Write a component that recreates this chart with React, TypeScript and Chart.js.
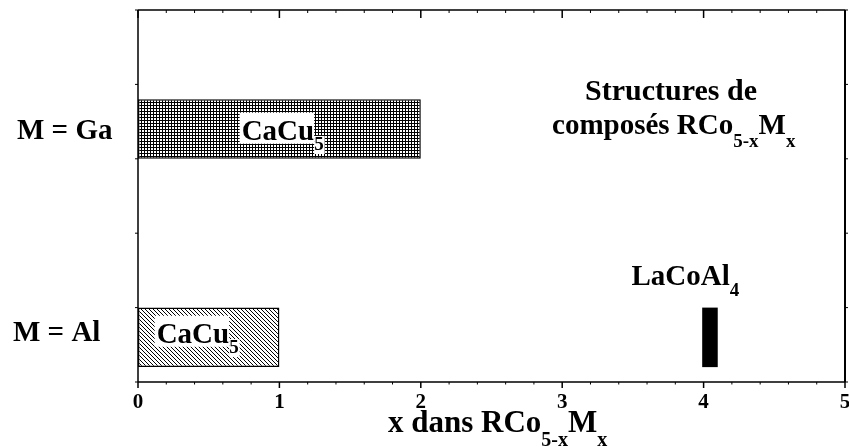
import React, { useEffect, useRef } from "react";
import { Chart, registerables } from "chart.js";

Chart.register(...registerables);

// ---- data ----
const categories = ["M = Ga", "M = Al"];
const categoryPositions = [3.4, 0.6]; // row centres on the vertical scale
const gaCaCu5Range = [0, 2];
const alCaCu5Range = [0, 1];
const alLaCoAl4Range = [3.99, 4.1];
const xTicks = [0, 1, 2, 3, 4, 5];
const yTicks = [0, 1, 2, 3, 4, 5];

// ---- layout / styles ----
const FONT = '"Liberation Serif", "Times New Roman", serif';
const MAIN = 29;
const SUB = 19;

type Seg = { t: string; sub?: boolean };

// text annotations, anchored in data coordinates
const annotations: { segs: Seg[]; x: number; y: number; align: "left" | "center"; bg: boolean; size: number; subDy: number }[] = [
  { segs: [{ t: "CaCu" }, { t: "5", sub: true }], x: 0.733, y: 3.25, align: "left", bg: true, size: MAIN, subDy: 10 },
  { segs: [{ t: "CaCu" }, { t: "5", sub: true }], x: 0.132, y: 0.52, align: "left", bg: true, size: MAIN, subDy: 10 },
  { segs: [{ t: "LaCoAl" }, { t: "4", sub: true }], x: 3.49, y: 1.3, align: "left", bg: false, size: MAIN, subDy: 11 },
  { segs: [{ t: "Structures de" }], x: 3.77, y: 3.79, align: "center", bg: false, size: 30, subDy: 0 },
  {
    segs: [{ t: "composés RCo" }, { t: "5-x", sub: true }, { t: "M" }, { t: "x", sub: true }],
    x: 2.928, y: 3.33, align: "left", bg: false, size: 29, subDy: 13,
  },
];
const categoryLabelOffsets = [
  { dx: -121, dy: 10 },
  { dx: -125, dy: 4 },
];
const axisTitle: Seg[] = [{ t: "x dans RCo" }, { t: "5-x", sub: true }, { t: "M" }, { t: "x", sub: true }];

function drawRich(
  ctx: CanvasRenderingContext2D,
  segs: Seg[],
  x: number,
  y: number,
  size: number,
  subSize: number,
  subDy: number,
  align: "left" | "center",
  bg: boolean
) {
  ctx.save();
  ctx.textBaseline = "alphabetic";
  ctx.textAlign = "left";
  const widths = segs.map((s) => {
    ctx.font = `bold ${s.sub ? subSize : size}px ${FONT}`;
    return ctx.measureText(s.t).width;
  });
  const total = widths.reduce((a, b) => a + b, 0);
  let cx = align === "center" ? x - total / 2 : x;
  if (bg) {
    ctx.fillStyle = "#fff";
    let bx = cx;
    segs.forEach((s, i) => {
      const w = widths[i];
      if (s.sub) ctx.fillRect(bx, y + subDy - subSize * 0.75, w + 1, subSize * 0.95);
      else ctx.fillRect(bx - 2, y - size * 0.95, w + 2, size * 1.07);
      bx += w;
    });
  }
  ctx.fillStyle = "#000";
  segs.forEach((s, i) => {
    ctx.font = `bold ${s.sub ? subSize : size}px ${FONT}`;
    ctx.fillText(s.t, cx, s.sub ? y + subDy : y);
    cx += widths[i];
  });
  ctx.restore();
}

function makeCrossHatch(): CanvasPattern | string {
  const c = document.createElement("canvas");
  c.width = 3;
  c.height = 3;
  const g = c.getContext("2d")!;
  g.fillStyle = "#fff";
  g.fillRect(0, 0, 3, 3);
  g.fillStyle = "#000";
  g.fillRect(0, 0, 3, 1);
  g.fillRect(0, 0, 1, 3);
  return g.createPattern(c, "repeat") || "#777";
}

function makeDiagHatch(): CanvasPattern | string {
  const c = document.createElement("canvas");
  c.width = 4;
  c.height = 4;
  const g = c.getContext("2d")!;
  g.fillStyle = "#fff";
  g.fillRect(0, 0, 4, 4);
  g.fillStyle = "#000";
  for (let i = 0; i < 4; i++) g.fillRect(i, i, 1, 1);
  return g.createPattern(c, "repeat") || "#aaa";
}

const overlay = {
  id: "overlay",
  afterDatasetsDraw(chart: any) {
    const { ctx, scales } = chart;
    const x = scales.x;
    const y = scales.y;
    annotations.forEach((a) => {
      drawRich(ctx, a.segs, x.getPixelForValue(a.x), y.getPixelForValue(a.y), a.size, SUB, a.subDy, a.align, a.bg);
    });
  },
  afterDraw(chart: any) {
    const { ctx, chartArea: a, scales } = chart;
    const x = scales.x;
    const y = scales.y;
    ctx.save();
    ctx.strokeStyle = "#000";
    ctx.lineWidth = 1.5;
    ctx.beginPath();
    ctx.moveTo(a.left, a.top);
    ctx.lineTo(a.right, a.top);
    ctx.moveTo(a.left, a.top);
    ctx.lineTo(a.left, a.bottom);
    ctx.moveTo(a.left, a.bottom);
    ctx.lineTo(a.right, a.bottom);
    ctx.stroke();
    ctx.lineWidth = 2;
    ctx.beginPath();
    ctx.moveTo(a.right, a.top);
    ctx.lineTo(a.right, a.bottom);
    ctx.stroke();

    // x ticks
    ctx.lineWidth = 1.5;
    ctx.beginPath();
    xTicks.forEach((v) => {
      const px = x.getPixelForValue(v);
      ctx.moveTo(px, a.bottom);
      ctx.lineTo(px, a.bottom + 6);
      ctx.moveTo(px, a.top);
      ctx.lineTo(px, a.top + 8);
    });
    ctx.stroke();
    ctx.lineWidth = 1;
    ctx.beginPath();
    const lo = xTicks[0];
    const hi = xTicks[xTicks.length - 1];
    for (let k = 0; k <= (hi - lo) * 5; k++) {
      if (k % 5 === 0) continue;
      const px = x.getPixelForValue(lo + k * 0.2);
      ctx.moveTo(px, a.bottom);
      ctx.lineTo(px, a.bottom + 2.5);
      ctx.moveTo(px, a.top);
      ctx.lineTo(px, a.top + 3);
    }
    // y ticks
    yTicks.forEach((v) => {
      const py = y.getPixelForValue(v);
      ctx.moveTo(a.left - 3, py);
      ctx.lineTo(a.left, py);
      ctx.moveTo(a.right, py);
      ctx.lineTo(a.right + 3, py);
    });
    ctx.stroke();

    // x tick labels
    ctx.fillStyle = "#000";
    ctx.font = `bold 21px ${FONT}`;
    ctx.textAlign = "center";
    ctx.textBaseline = "alphabetic";
    xTicks.forEach((v) => {
      ctx.fillText(String(v), x.getPixelForValue(v), a.bottom + 26);
    });
    ctx.restore();

    // category labels
    categories.forEach((c, i) => {
      const off = categoryLabelOffsets[i];
      drawRich(ctx, [{ t: c }], a.left + off.dx, y.getPixelForValue(categoryPositions[i]) + off.dy, MAIN, SUB, 0, "left", false);
    });

    // axis title
    drawRich(ctx, axisTitle, 388, a.bottom + 50, 31, 20, 14, "left", false);
  },
};

export default function App() {
  const ref = useRef<HTMLCanvasElement | null>(null);
  useEffect(() => {
    if (!ref.current) return;
    const chart = new Chart(ref.current, {
      type: "bar",
      data: {
        datasets: [
          {
            label: "CaCu5 (Ga)",
            data: [{ x: gaCaCu5Range, y: categoryPositions[0] }] as any,
            backgroundColor: makeCrossHatch() as any,
            borderColor: "#000",
            borderWidth: 1.5,
            borderSkipped: false,
          },
          {
            label: "CaCu5 (Al)",
            data: [{ x: alCaCu5Range, y: categoryPositions[1] }] as any,
            backgroundColor: makeDiagHatch() as any,
            borderColor: "#000",
            borderWidth: 1.5,
            borderSkipped: false,
          },
          {
            label: "LaCoAl4",
            data: [{ x: alLaCoAl4Range, y: categoryPositions[1] }] as any,
            backgroundColor: "#000",
            borderColor: "#000",
            borderWidth: 0,
            borderSkipped: false,
          },
        ],
      },
      options: {
        indexAxis: "y",
        responsive: false,
        animation: false,
        events: [],
        grouped: false,
        categoryPercentage: 0.8,
        barPercentage: 1,
        layout: { padding: { left: 138, right: 4, top: 10, bottom: 65 } },
        plugins: { legend: { display: false }, tooltip: { enabled: false } },
        scales: {
          x: { type: "linear", min: 0, max: 5, display: false, offset: false },
          y: { type: "linear", min: 0, max: 5, display: false, offset: false, ticks: { stepSize: 1 } },
        },
      } as any,
      plugins: [overlay],
    });
    return () => chart.destroy();
  }, []);
  return (
    <div style={{ position: "fixed", left: 0, top: 0, width: 849, height: 447, background: "#fff" }}>
      <canvas ref={ref} width={849} height={447} style={{ display: "block" }} />
    </div>
  );
}
